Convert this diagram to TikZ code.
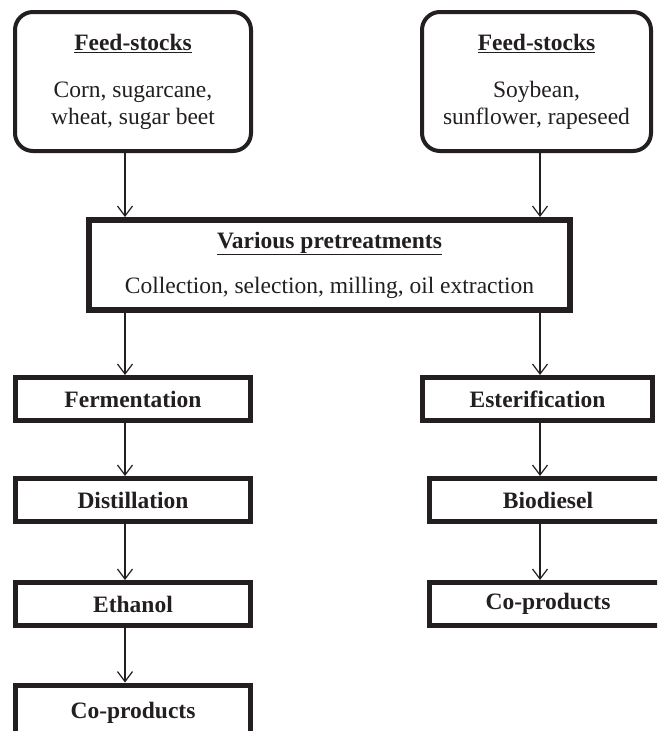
\documentclass[tikz,border=0pt]{standalone}
\usepackage{fontspec}
\setmainfont{Liberation Serif}
\usetikzlibrary{arrows.meta}
\definecolor{ink}{HTML}{231F20}
\tikzset{
  feedbox/.style={draw=ink, line width=4pt, rounded corners=18pt, inner sep=0pt, align=center,
    minimum width=236pt, minimum height=139pt, text=ink, font=\fontsize{23.5}{27}\selectfont},
  prebox/.style={draw=ink, line width=6pt, inner sep=0pt, align=center,
    minimum width=481pt, minimum height=90pt, text=ink, font=\fontsize{23.5}{27}\selectfont},
  procbox/.style={draw=ink, line width=5pt, inner sep=0pt, align=center,
    minimum height=43pt, text=ink, font=\fontsize{23.5}{27}\selectfont\bfseries},
  arr/.style={draw=ink, line width=1.2pt, -{Straight Barb[length=10pt,width=15pt,line width=1.2pt]}},
}
\begin{document}
\begin{tikzpicture}[x=1pt,y=-1pt]
\useasboundingbox (0,0) rectangle (657,731);
\clip (0,0) rectangle (657,731);
\fill[white] (0,0) rectangle (657,731);
% columns of the connectors
\coordinate (cl) at (125,0);
\coordinate (cr) at (540,0);
% feed-stocks
\node[feedbox] (lf) at (133,81.5) {\underline{\textbf{Feed-stocks}}\\[20pt]Corn, sugarcane,\\wheat, sugar beet};
\node[feedbox, minimum width=229pt] (rf) at (536.5,81.5) {\underline{\textbf{Feed-stocks}}\\[20pt]Soybean,\\sunflower, rapeseed};
% pretreatments
\node[prebox] (pre) at (329.5,265) {\underline{\textbf{Various pretreatments}}\\[18pt]Collection, selection, milling, oil extraction};
% left chain
\node[procbox, minimum width=235pt] (fer) at (133,399) {Fermentation};
\node[procbox, minimum width=235pt] (dis) at (133,500) {Distillation};
\node[procbox, minimum width=235pt] (eth) at (133,604) {Ethanol};
\node[procbox, minimum width=235pt, minimum height=55pt] (col) at (133,712.5) {Co-products};
% right chain
\node[procbox, minimum width=230pt] (est) at (537.5,399) {Esterification};
\node[procbox, minimum width=238pt] (bio) at (548,500) {Biodiesel};
\node[procbox, minimum width=238pt] (cor) at (548,604) {Co-products};
% connectors
\draw[arr] (lf.south -| cl) -- (pre.north -| cl);
\draw[arr] (rf.south -| cr) -- (pre.north -| cr);
\draw[arr] (pre.south -| cl) -- (fer.north -| cl);
\draw[arr] (fer.south -| cl) -- (dis.north -| cl);
\draw[arr] (dis.south -| cl) -- (eth.north -| cl);
\draw[arr] (eth.south -| cl) -- (col.north -| cl);
\draw[arr] (pre.south -| cr) -- (est.north -| cr);
\draw[arr] (est.south -| cr) -- (bio.north -| cr);
\draw[arr] (bio.south -| cr) -- (cor.north -| cr);
\end{tikzpicture}
\end{document}
